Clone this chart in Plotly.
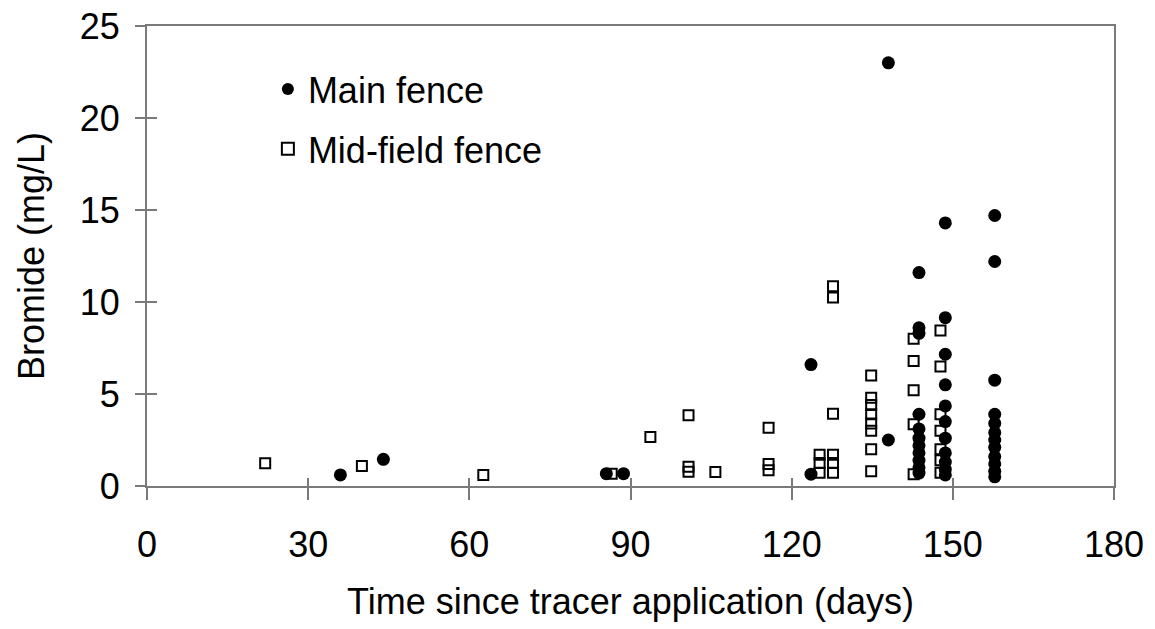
import plotly.graph_objects as go

# Main fence (filled circles)
main_days = [36, 44, 85.5, 88.7, 123.6, 123.6, 138, 138,
             143.7, 143.7, 143.7, 143.7, 143.7, 143.7, 143.7, 143.7, 143.7, 143.7, 143.7,
             148.6, 148.6, 148.6, 148.6, 148.6, 148.6, 148.6, 148.6, 148.6, 148.6, 148.6,
             157.8, 157.8, 157.8, 157.8, 157.8, 157.8, 157.8, 157.8, 157.8, 157.8, 157.8, 157.8]
main_br = [0.6, 1.45, 0.67, 0.67, 0.64, 6.6, 23.0, 2.5,
           11.6, 8.6, 8.3, 3.9, 3.1, 2.6, 2.2, 1.8, 1.4, 1.0, 0.7,
           14.3, 9.15, 7.16, 5.5, 4.35, 3.5, 2.6, 1.8, 1.3, 0.9, 0.6,
           14.7, 12.2, 5.75, 3.9, 3.4, 2.9, 2.5, 2.1, 1.6, 1.2, 0.8, 0.5]

# Mid-field fence (open squares)
mid_days = [22, 40, 62.6, 86.5, 93.7,
            100.8, 100.8, 100.8, 105.8,
            115.7, 115.7, 115.7,
            125.2, 125.2, 125.2,
            127.7, 127.7, 127.7, 127.7, 127.7, 127.7,
            134.8, 134.8, 134.8, 134.8, 134.8, 134.8, 134.8, 134.8,
            142.7, 142.7, 142.7, 142.7, 142.7,
            147.7, 147.7, 147.7, 147.7, 147.7, 147.7, 147.7]
mid_br = [1.23, 1.09, 0.6, 0.67, 2.66,
          3.85, 1.05, 0.77, 0.76,
          3.17, 1.2, 0.85,
          1.7, 1.25, 0.72,
          10.85, 10.25, 3.93, 1.7, 1.25, 0.72,
          6.0, 4.8, 4.4, 3.9, 3.4, 3.0, 2.0, 0.8,
          8.0, 6.8, 5.2, 3.35, 0.64,
          8.45, 6.5, 3.9, 3.0, 2.0, 1.4, 0.72]

x_ticks = [0, 30, 60, 90, 120, 150, 180]
y_ticks = [0, 5, 10, 15, 20, 25]

FONT = "Liberation Sans, Arial, sans-serif"
FS = 36

fig = go.Figure()
fig.add_trace(go.Scatter(
    x=main_days, y=main_br, mode="markers", name="Main fence",
    legendgroup="a",
    marker=dict(symbol="circle", size=13, color="black", line=dict(width=0)),
))
fig.add_trace(go.Scatter(
    x=mid_days, y=mid_br, mode="markers", name="Mid-field fence",
    legendgroup="b",
    marker=dict(symbol="square-open", size=10, color="black", line=dict(width=2)),
))
# empty helper trace so the inner tick axes are drawn
fig.add_trace(go.Scatter(x=[], y=[], xaxis="x2", yaxis="y2", showlegend=False,
                         hoverinfo="skip"))

axis_line = "#7a7a7a"
fig.update_layout(
    width=1155, height=629,
    margin=dict(l=147, r=41, t=26, b=143, autoexpand=False),
    paper_bgcolor="white", plot_bgcolor="white",
    font=dict(family=FONT, color="black", size=FS),
    showlegend=True,
    legend=dict(x=0.125, y=0.928, xanchor="left", yanchor="top",
                bgcolor="rgba(0,0,0,0)", font=dict(size=FS),
                tracegroupgap=10, itemsizing="constant", traceorder="grouped",
                itemwidth=30),
    xaxis=dict(range=[0, 180], tickvals=x_ticks, ticktext=[str(v) for v in x_ticks],
               showgrid=False, zeroline=False, showline=True, linecolor=axis_line,
               linewidth=2, mirror=True, ticks="outside", ticklen=12,
               tickcolor=axis_line, tickwidth=2, ticklabelstandoff=14,
               automargin=False,
               title=dict(text="Time since tracer application (days)", standoff=25,
                          font=dict(size=FS))),
    yaxis=dict(range=[0, 25], tickvals=y_ticks, ticktext=[str(v) for v in y_ticks],
               showgrid=False, zeroline=False, showline=True, linecolor=axis_line,
               linewidth=2, mirror=True, ticks="outside", ticklen=10,
               tickcolor=axis_line, tickwidth=2, ticklabelstandoff=8,
               automargin=False,
               title=dict(text="Bromide (mg/L)", standoff=24, font=dict(size=FS))),
    xaxis2=dict(overlaying="x", matches="x", range=[0, 180], tickvals=x_ticks,
                showticklabels=False, showgrid=False, zeroline=False, showline=False,
                ticks="inside", ticklen=8, tickcolor=axis_line, tickwidth=2,
                anchor="y2", side="bottom", automargin=False),
    yaxis2=dict(overlaying="y", matches="y", range=[0, 25], tickvals=y_ticks,
                showticklabels=False, showgrid=False, zeroline=False, showline=False,
                ticks="inside", ticklen=10, tickcolor=axis_line, tickwidth=2,
                anchor="x2", side="left", automargin=False),
)

fig.write_html("out.html")
